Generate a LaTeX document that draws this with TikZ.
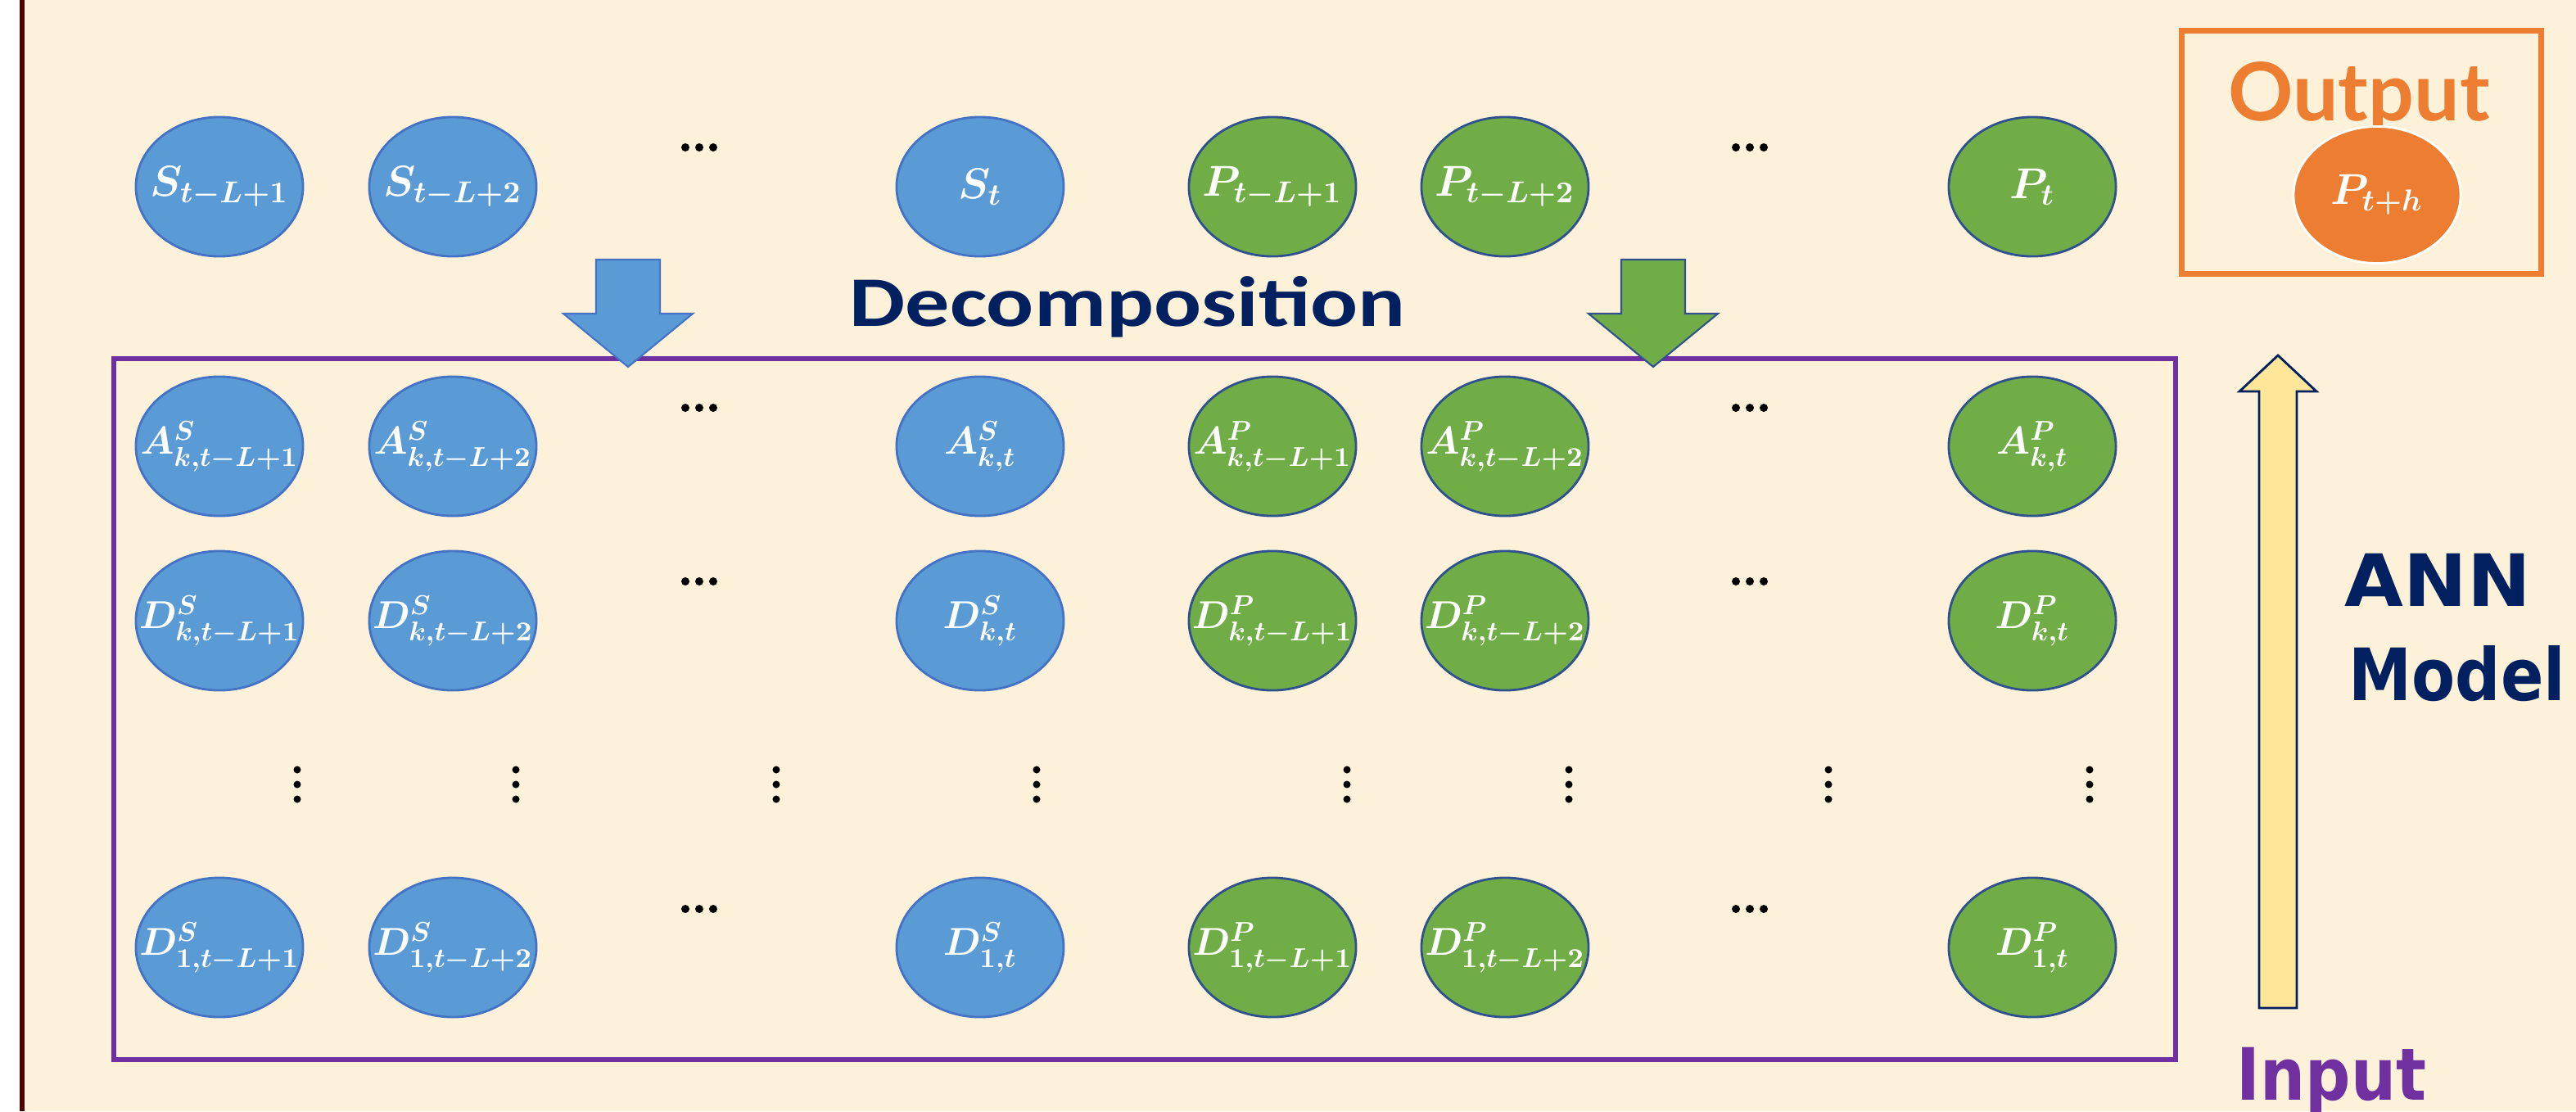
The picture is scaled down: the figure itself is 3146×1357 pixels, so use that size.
\RequirePackage{fix-cm}
\documentclass[tikz,border=0pt]{standalone}
\usepackage{fontspec}
\usepackage{amsmath}
\usepackage{bm}
\usetikzlibrary{shapes.geometric}

\newfontfamily\decofont{Carlito}
\newfontfamily\outfont{Lato}
\newfontfamily\annfont{DejaVu Sans}

\definecolor{bg}{RGB}{253,241,217}
\definecolor{edgered}{RGB}{75,0,0}
\definecolor{sblue}{RGB}{91,155,213}
\definecolor{sedge}{RGB}{68,114,196}
\definecolor{pgreen}{RGB}{112,173,71}
\definecolor{pedge}{RGB}{47,82,143}
\definecolor{outorange}{RGB}{237,125,49}
\definecolor{boxpurple}{RGB}{112,48,160}
\definecolor{navy}{RGB}{0,32,96}
\definecolor{paleyellow}{RGB}{255,230,153}

\begin{document}
\begin{tikzpicture}[x=0.01cm, y=-0.01cm,
    blob/.style={ellipse, minimum width=2.04cm, minimum height=1.7cm, inner sep=0pt,
      line width=0.8pt, text=white, font=\fontsize{13.5}{16}\selectfont,
      execute at begin node={\boldmath\hbox to 0pt\bgroup\hss}, execute at end node={\hss\egroup}},
    sblob/.style={blob, fill=sblue, draw=sedge},
    pblob/.style={blob, fill=pgreen, draw=pedge},
    toprow/.style={font=\fontsize{15}{18}\selectfont},
    hellip/.pic={\foreach \i in {-17,0,17} \fill (\i,0) circle[radius=5];},
    vellip/.pic={\foreach \i in {-18,0,18} \fill (0,\i) circle[radius=4.5];},
    bigword/.style={inner sep=0pt, font=\annfont\bfseries\fontsize{22}{26}\selectfont},
  ]
  \useasboundingbox (0,0) rectangle (3146,1357);
  \fill[white] (0,0) rectangle (24,1357);
  \fill[bg] (24,0) rectangle (3146,1357);
  \fill[edgered] (24,0) rectangle (30,1357);

  \node[sblob, toprow] (s1) at (268,228) {$\bm{S_{t-L+1}}$};
  \node[sblob, toprow] (s2) at (553,228) {$\bm{S_{t-L+2}}$};
  \node[sblob, toprow] (st) at (1197,228) {$\bm{S_{t}}$};
  \node[pblob, toprow] (p1) at (1554,228) {$\bm{P_{t-L+1}}$};
  \node[pblob, toprow] (p2) at (1838,228) {$\bm{P_{t-L+2}}$};
  \node[pblob, toprow] (pt) at (2482,228) {$\bm{P_{t}}$};
  \pic at (854,180) {hellip};
  \pic at (2137,180) {hellip};

  \draw[boxpurple, line width=1.8pt] (139,438) rectangle (2657,1294);

  \node[sblob] (as1) at (268,545) {$\bm{A^{S}_{k,t-L+1}}$};
  \node[sblob] (as2) at (553,545) {$\bm{A^{S}_{k,t-L+2}}$};
  \node[sblob] (ast) at (1197,545) {$\bm{A^{S}_{k,t}}$};
  \node[pblob] (ap1) at (1554,545) {$\bm{A^{P}_{k,t-L+1}}$};
  \node[pblob] (ap2) at (1838,545) {$\bm{A^{P}_{k,t-L+2}}$};
  \node[pblob] (apt) at (2482,545) {$\bm{A^{P}_{k,t}}$};

  \node[sblob] (ds1) at (268,758) {$\bm{D^{S}_{k,t-L+1}}$};
  \node[sblob] (ds2) at (553,758) {$\bm{D^{S}_{k,t-L+2}}$};
  \node[sblob] (dst) at (1197,758) {$\bm{D^{S}_{k,t}}$};
  \node[pblob] (dp1) at (1554,758) {$\bm{D^{P}_{k,t-L+1}}$};
  \node[pblob] (dp2) at (1838,758) {$\bm{D^{P}_{k,t-L+2}}$};
  \node[pblob] (dpt) at (2482,758) {$\bm{D^{P}_{k,t}}$};

  \node[sblob] (es1) at (268,1157) {$\bm{D^{S}_{1,t-L+1}}$};
  \node[sblob] (es2) at (553,1157) {$\bm{D^{S}_{1,t-L+2}}$};
  \node[sblob] (est) at (1197,1157) {$\bm{D^{S}_{1,t}}$};
  \node[pblob] (ep1) at (1554,1157) {$\bm{D^{P}_{1,t-L+1}}$};
  \node[pblob] (ep2) at (1838,1157) {$\bm{D^{P}_{1,t-L+2}}$};
  \node[pblob] (ept) at (2482,1157) {$\bm{D^{P}_{1,t}}$};

  \foreach \y in {498,710,1110} {
    \pic at (854,\y) {hellip};
    \pic at (2137,\y) {hellip};
  }
  \foreach \x in {363,630,948,1266,1645,1916,2233,2552}
    \pic at (\x,958) {vellip};

  \foreach \cx/\f/\d in {767/sblue/sedge, 2019/pgreen/pedge}
    \filldraw[fill=\f, draw=\d, line width=0.6pt] (\cx-39,317) -- (\cx+39,317) -- (\cx+39,383)
      -- (\cx+79,383) -- (\cx,448) -- (\cx-79,383) -- (\cx-39,383) -- cycle;

  \node[anchor=base, inner sep=0pt, navy, font=\decofont\bfseries\fontsize{24.7}{28}\selectfont]
    (decomp) at (1377,398) {\scalebox{1.245}[1]{Decomposition}};

  \node[draw=outorange, line width=2pt, minimum width=4.38cm, minimum height=2.96cm] (outbox) at (2884,186) {};
  \node[anchor=base, inner sep=0pt, outorange, font=\outfont\bfseries\fontsize{28}{32}\selectfont]
    (outlbl) at (2881,147) {Output};
  \node[blob, fill=outorange, draw=white, minimum height=1.67cm, toprow] (pth) at (2903,238) {$\bm{P_{t+h}}$};

  \filldraw[fill=paleyellow, draw=navy, line width=0.8pt] (2759,1231) -- (2805,1231) -- (2805,478)
    -- (2829,478) -- (2782,434) -- (2735,478) -- (2759,478) -- cycle;

  \node[bigword, anchor=base west, navy] (ann) at (2863,740) {\scalebox{1.2}[1.14]{ANN}};
  \node[bigword, anchor=base west, navy] (model) at (2868,855) {\scalebox{1}[1.14]{Model}};
  \node[bigword, anchor=base west, boxpurple] (input) at (2731,1343) {\scalebox{1}[1.14]{Input}};
\end{tikzpicture}
\end{document}
